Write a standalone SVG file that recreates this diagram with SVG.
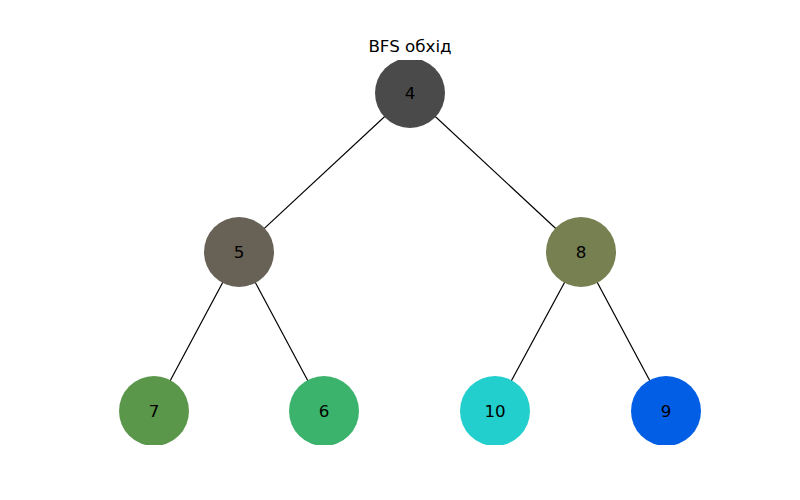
<svg xmlns="http://www.w3.org/2000/svg" width="800" height="500" viewBox="0 0 800 500">
<style>
.lbl{font-family:"DejaVu Sans","Liberation Sans",sans-serif;font-size:16.7px;fill:#000;text-anchor:middle;dominant-baseline:central}
.title{font-family:"DejaVu Sans","Liberation Sans",sans-serif;font-size:16.7px;fill:#000;text-anchor:middle}
.edge{stroke:#000;stroke-width:1.2;fill:none}
</style>
<defs><clipPath id="ax"><rect x="100" y="60" width="620" height="385"/></clipPath></defs>
<rect width="800" height="500" fill="#fff"/>
<text class="title" x="410" y="52">BFS обхід</text>
<g clip-path="url(#ax)">
<g id="connectors">
<line class="edge" x1="410" y1="93" x2="239" y2="252"/>
<line class="edge" x1="410" y1="93" x2="581" y2="252"/>
<line class="edge" x1="239" y1="252" x2="154" y2="411"/>
<line class="edge" x1="239" y1="252" x2="324" y2="411"/>
<line class="edge" x1="581" y1="252" x2="495" y2="411"/>
<line class="edge" x1="581" y1="252" x2="666" y2="411"/>
</g>
<g id="n4"><circle cx="410" cy="93" r="35" fill="#4a4a4a"/><text class="lbl" x="410" y="93">4</text></g>
<g id="n5"><circle cx="239" cy="252" r="35" fill="#686155"/><text class="lbl" x="239" y="252">5</text></g>
<g id="n8"><circle cx="581" cy="252" r="35" fill="#768050"/><text class="lbl" x="581" y="252">8</text></g>
<g id="n7"><circle cx="154" cy="411" r="35" fill="#5b974a"/><text class="lbl" x="154" y="411">7</text></g>
<g id="n6"><circle cx="324" cy="411" r="35" fill="#3bb36c"/><text class="lbl" x="324" y="411">6</text></g>
<g id="n10"><circle cx="495" cy="411" r="35" fill="#22cfcd"/><text class="lbl" x="495" y="411">10</text></g>
<g id="n9"><circle cx="666" cy="411" r="35" fill="#025fe5"/><text class="lbl" x="666" y="411">9</text></g>
</g>
</svg>
